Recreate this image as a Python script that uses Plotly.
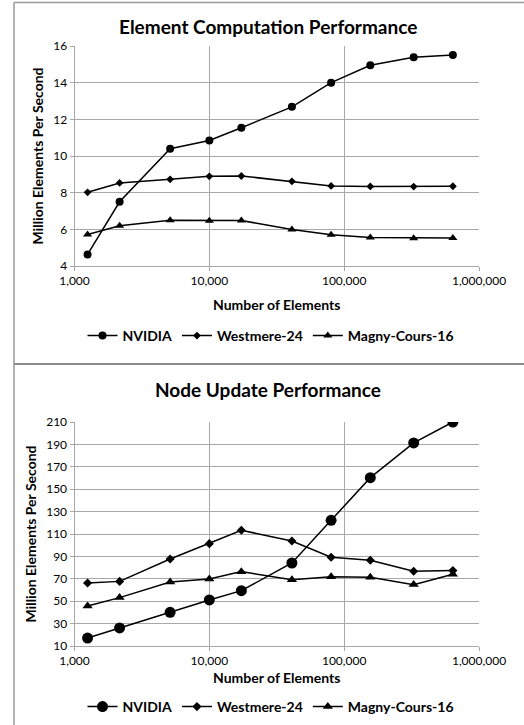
import plotly.graph_objects as go

W, H = 524, 725

elements = [1250, 2160, 5120, 10000, 17280, 40960, 80000, 156250, 327680, 640000]

elem_nvidia = [4.63, 7.50, 10.40, 10.85, 11.54, 12.68, 14.00, 14.95, 15.38, 15.51]
elem_westmere = [8.02, 8.53, 8.73, 8.89, 8.91, 8.62, 8.37, 8.34, 8.33, 8.35]
elem_magny = [5.72, 6.19, 6.50, 6.47, 6.48, 5.99, 5.70, 5.55, 5.52, 5.53]

node_nvidia = [17.1, 26.1, 40.1, 51.1, 59.4, 84.1, 122.2, 160.3, 191.3, 210.0]
node_westmere = [66.3, 67.7, 87.7, 101.4, 113.3, 103.8, 89.2, 86.5, 76.7, 77.3]
node_magny = [45.7, 53.2, 67.1, 69.8, 76.4, 69.2, 71.9, 71.3, 64.8, 74.0]

series_names = ["NVIDIA", "Westmere-24", "Magny-Cours-16"]
titles = ["Element Computation Performance", "Node Update Performance"]
x_title = "Number of Elements"
y_title = "Million Elements Per Second"
x_ticks = [1000, 10000, 100000, 1000000]
x_ticklabels = ["1,000", "10,000", "100,000", "1,000,000"]
y1_ticks = [4, 6, 8, 10, 12, 14, 16]
y2_ticks = [10, 30, 50, 70, 90, 110, 130, 150, 170, 190, 210]

FONT = "Lato"


def px_x(p):
    return p / W


def px_y(p):
    return 1 - p / H


fig = go.Figure()

symbols = ["circle", "diamond", "triangle-up"]
sizes1 = [8, 6, 8]
sizes2 = [11, 7, 9]

for i, (name, ys) in enumerate(zip(series_names, [elem_nvidia, elem_westmere, elem_magny])):
    fig.add_trace(go.Scatter(
        x=elements, y=ys, name=name, mode="lines+markers",
        line=dict(color="black", width=1.5),
        marker=dict(symbol=symbols[i], size=sizes1[i], color="black"),
        xaxis="x", yaxis="y", legend="legend",
    ))

for i, (name, ys) in enumerate(zip(series_names, [node_nvidia, node_westmere, node_magny])):
    fig.add_trace(go.Scatter(
        x=elements, y=ys, name=name, mode="lines+markers",
        line=dict(color="black", width=1.5),
        marker=dict(symbol=symbols[i], size=sizes2[i], color="black"),
        xaxis="x2", yaxis="y2", legend="legend2",
    ))

grid_col = "#a8a8a8"
tickfont = dict(family=FONT, size=12, color="black")
titlefont = dict(family=FONT, size=14, color="black", weight="bold")

xcommon = dict(
    type="log", range=[3, 6], tickvals=x_ticks, ticktext=x_ticklabels,
    showgrid=True, gridcolor=grid_col, gridwidth=1,
    showline=True, linecolor=grid_col, linewidth=1, mirror=False,
    ticks="outside", ticklen=4, tickcolor=grid_col,
    tickfont=tickfont, zeroline=False, automargin=False,
    domain=[px_x(74.5), px_x(479)],
)
ycommon = dict(
    showgrid=True, gridcolor=grid_col, gridwidth=1,
    showline=True, linecolor=grid_col, linewidth=1,
    ticks="outside", ticklen=4, tickcolor=grid_col,
    tickfont=tickfont, zeroline=False, automargin=False,
)

legfont = dict(family=FONT, size=14, color="black", weight="bold")

fig.update_layout(
    width=W, height=H,
    margin=dict(l=0, r=0, t=0, b=0),
    paper_bgcolor="white", plot_bgcolor="white",
    font=dict(family=FONT, color="black"),
    xaxis=dict(**xcommon, anchor="y",
               title=dict(text=x_title, font=titlefont, standoff=12)),
    yaxis=dict(**ycommon, range=[4, 16], tickvals=y1_ticks, anchor="x",
               domain=[px_y(266), px_y(46)],
               title=dict(text=y_title, font=titlefont, standoff=6)),
    xaxis2=dict(**xcommon, anchor="y2",
                title=dict(text=x_title, font=titlefont, standoff=5)),
    yaxis2=dict(**ycommon, range=[10, 210], tickvals=y2_ticks, anchor="x2",
                domain=[px_y(646), px_y(422)],
                title=dict(text=y_title, font=titlefont, standoff=6)),
    legend=dict(orientation="h", x=px_x(271), xanchor="center",
                y=px_y(336), yanchor="middle", font=legfont,
                itemwidth=30, bgcolor="rgba(0,0,0,0)"),
    legend2=dict(orientation="h", x=px_x(271), xanchor="center",
                 y=px_y(707), yanchor="middle", font=legfont,
                 itemwidth=30, bgcolor="rgba(0,0,0,0)"),
    annotations=[
        dict(text=titles[0], x=px_x(268), y=px_y(26), xref="paper", yref="paper",
             showarrow=False, xanchor="center", yanchor="middle",
             font=dict(family=FONT, size=19, color="black", weight="bold")),
        dict(text=titles[1], x=px_x(268), y=px_y(389), xref="paper", yref="paper",
             showarrow=False, xanchor="center", yanchor="middle",
             font=dict(family=FONT, size=19, color="black", weight="bold")),
    ],
    shapes=[
        dict(type="line", xref="paper", yref="paper", x0=px_x(14), x1=px_x(14),
             y0=px_y(2.5), y1=0, line=dict(color="#9a9a9a", width=1.5)),
        dict(type="line", xref="paper", yref="paper", x0=px_x(14), x1=1,
             y0=px_y(2.5), y1=px_y(2.5), line=dict(color="#9a9a9a", width=1.5)),
        dict(type="line", xref="paper", yref="paper", x0=px_x(14), x1=1,
             y0=px_y(364), y1=px_y(364), line=dict(color="#8c8c8c", width=2)),
    ],
    showlegend=True,
)

fig.write_html("out.html")
